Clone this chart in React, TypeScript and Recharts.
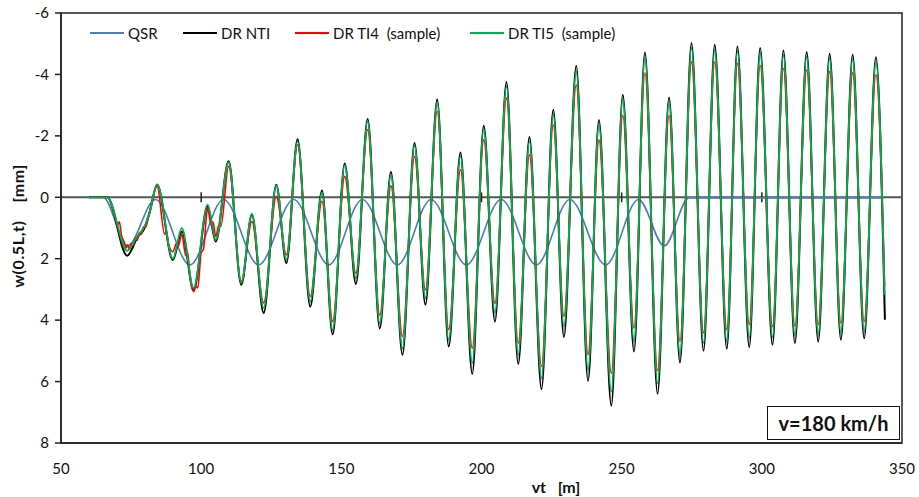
import React from 'react';
import { LineChart, Line, XAxis, YAxis, ReferenceLine, ReferenceArea } from 'recharts';

const xTicks = [50, 100, 150, 200, 250, 300, 350];
const yTicks = [-6, -4, -2, 0, 2, 4, 6, 8];
const axisMarks = [100, 150, 200, 250, 300];

// QSR (quasi-static response)
const qsrX = [60, 65, 73.7, 83.7, 96, 108, 120.5, 133, 145.5, 157.5, 170, 182, 194.6, 207, 219.6, 231.5, 244.3, 256, 265.2, 274, 343.5];
const qsrW = [0, 0, 1.58, 0.07, 2.2, 0.07, 2.2, 0.07, 2.2, 0.07, 2.2, 0.07, 2.2, 0.07, 2.2, 0.07, 2.2, 0.07, 1.58, 0.02, 0.02];

// DR NTI
const ntiX = [60, 66.5, 73.6, 77.3, 79.8, 81.6, 84.3, 89.9, 93.1, 97.3, 102.3, 105.2, 109.8, 114.3, 118.1, 122.3, 126.8, 130.4, 134.4, 138.9, 143.1, 146.9, 151.2, 155.2, 159.4, 163.7, 167.7, 171.8, 176.1, 180, 184.2, 188.3, 192.5, 196.7, 200.8, 204.8, 208.9, 213.1, 217.1, 221.4, 225.6, 229.4, 233.8, 238, 241.9, 246.3, 250.4, 254.4, 258.3, 262.8, 266.9, 270.8, 274.9, 279.2, 283.2, 287.5, 291.3, 295.5, 299.4, 303.8, 307.7, 311.8, 316, 320.1, 324.2, 328.2, 332.4, 336.5, 340.7, 343.9];
const ntiW = [0, 0, 1.9, 1.3, 1.0, 0.5, -0.41, 2.04, 1.11, 3.01, 0.3, 1.44, -1.17, 2.85, 0.57, 3.77, -0.41, 2.14, -1.89, 3.56, -0.22, 4.46, -1.1, 2.82, -2.55, 4.27, -0.82, 5.13, -1.77, 3.5, -3.18, 4.86, -1.46, 5.75, -2.33, 4.05, -3.75, 5.43, -1.96, 6.25, -2.85, 4.55, -4.28, 5.98, -2.52, 6.79, -3.34, 5.02, -4.71, 6.4, -3.25, 5.38, -5.02, 5.0, -4.97, 4.93, -4.91, 4.88, -4.86, 4.8, -4.78, 4.75, -4.73, 4.7, -4.67, 4.64, -4.64, 4.59, -4.56, 3.99];

// DR TI4 (sample)
const ti4X = [60, 66.7, 69.5, 70.2, 70.8, 71.6, 72.5, 73.2, 73.8, 74.4, 75.1, 75.8, 76.5, 77.2, 78, 78.7, 79.5, 80.2, 81.5, 84.3, 87, 87.6, 88.3, 89.9, 91.2, 91.8, 93.1, 94.5, 95.2, 96, 97.3, 98.2, 98.8, 100, 100.8, 102.3, 103.5, 104.2, 105.2, 106.3, 107, 109.8, 114.3, 118.1, 122.3, 126.8, 130.4, 134.4, 138.9, 143.1, 146.9, 151.2, 155.2, 159.4, 163.7, 167.7, 171.8, 176.1, 180, 184.2, 188.3, 192.5, 196.7, 200.8, 204.8, 208.9, 213.1, 217.1, 221.4, 225.6, 229.4, 233.8, 238, 241.9, 246.3, 250.4, 254.4, 258.3, 262.8, 266.9, 270.8, 274.9, 279.2, 283.2, 287.5, 291.3, 295.5, 299.4, 303.8, 307.7, 311.8, 316, 320.1, 324.2, 328.2, 332.4, 336.5, 340.7, 343.8];
const ti4W = [0, 0, 0.7, 0.9, 0.8, 1.25, 1.45, 1.65, 1.55, 1.7, 1.5, 1.55, 1.3, 1.4, 1.15, 1.2, 0.95, 0.98, 0.5, -0.35, 1.2, 1.1, 1.5, 1.78, 1.5, 1.6, 1.2, 1.9, 1.8, 2.6, 3.07, 2.9, 2.95, 1.8, 1.7, 0.35, 0.9, 0.8, 1.28, 0.9, 0.95, -1.01, 2.74, 0.79, 3.44, -0.03, 1.87, -1.71, 3.23, 0.13, 4.04, -0.68, 2.47, -2.2, 3.84, -0.37, 4.53, -1.33, 3.01, -2.8, 4.31, -0.9, 4.91, -1.87, 3.46, -3.23, 4.75, -1.38, 5.51, -2.36, 3.88, -3.66, 5.13, -1.87, 5.73, -2.67, 4.26, -4.05, 5.64, -2.67, 4.69, -4.41, 4.42, -4.41, 4.31, -4.36, 4.15, -4.3, 4.21, -4.2, 4.2, -4.15, 4.15, -4.1, 4.1, -4.05, 4.05, -4.0, 2.9];

// DR TI5 (sample)
const ti5X = [60, 66.5, 73.6, 77.3, 79.8, 81.6, 84.3, 89.9, 93.1, 97.3, 102.3, 105.2, 109.8, 114.3, 118.1, 122.3, 126.8, 130.4, 134.4, 138.9, 143.1, 146.9, 151.2, 155.2, 159.4, 163.7, 167.7, 171.8, 176.1, 180, 184.2, 188.3, 192.5, 196.7, 200.8, 204.8, 208.9, 213.1, 217.1, 221.4, 225.6, 229.4, 233.8, 238, 241.9, 246.3, 250.4, 254.4, 258.3, 262.8, 266.9, 270.8, 274.9, 279.2, 283.2, 287.5, 291.3, 295.5, 299.4, 303.8, 307.7, 311.8, 316, 320.1, 324.2, 328.2, 332.4, 336.5, 340.7, 343.8];
const ti5W = [0, 0, 1.74, 1.25, 0.95, 0.5, -0.42, 2.0, 1.0, 2.95, 0.24, 1.39, -1.14, 2.79, 0.53, 3.6, -0.38, 2.03, -1.82, 3.39, -0.16, 4.32, -1.05, 2.63, -2.48, 4.1, -0.74, 4.92, -1.68, 3.28, -3.1, 4.64, -1.33, 5.4, -2.22, 3.76, -3.61, 5.13, -1.82, 5.89, -2.69, 4.21, -4.1, 5.62, -2.36, 6.33, -3.2, 4.69, -4.57, 6.05, -3.12, 5.13, -4.86, 4.74, -4.8, 4.69, -4.75, 4.58, -4.7, 4.55, -4.63, 4.5, -4.58, 4.47, -4.52, 4.42, -4.5, 4.38, -4.42, 3.18];

const toPoints = (xs: number[], ws: number[]) => xs.map((x, i) => ({ x, w: ws[i] }));

const qsrData = toPoints(qsrX, qsrW);
const ntiData = toPoints(ntiX, ntiW);
const ti4Data = toPoints(ti4X, ti4W);
const ti5Data = toPoints(ti5X, ti5W);

const FONT = "Lato, 'Open Sans', sans-serif";

const legendItems = [
  { label: 'QSR', color: '#4a7ebb', lineLeft: 90, textLeft: 128 },
  { label: 'DR NTI', color: '#000000', lineLeft: 183, textLeft: 221 },
  { label: 'DR TI4  (sample)', color: '#ff0000', lineLeft: 295, textLeft: 333 },
  { label: 'DR TI5  (sample)', color: '#00b050', lineLeft: 470, textLeft: 508 },
];

export default function App() {
  return (
    <div style={{ position: 'fixed', left: 0, top: 0, width: 919, height: 497, background: '#fff', fontFamily: FONT }}>
      <LineChart width={919} height={497} margin={{ top: 13, right: 17, bottom: 24, left: 0 }}>
        <ReferenceArea x1={50} x2={350} y1={-6} y2={8} fill="none" stroke="#222" strokeWidth={1.5} ifOverflow="visible" />
        <XAxis
          dataKey="x"
          type="number"
          domain={[50, 350]}
          ticks={xTicks}
          allowDataOverflow
          height={30}
          tickSize={0}
          tickMargin={20}
          axisLine={{ stroke: '#222', strokeWidth: 1.5 }}
          tick={{ fill: '#111', fontSize: 15, fontFamily: FONT }}
        />
        <YAxis
          dataKey="w"
          type="number"
          domain={[-6, 8]}
          reversed
          ticks={yTicks}
          allowDataOverflow
          width={61}
          tickSize={6}
          tickMargin={6}
          axisLine={{ stroke: '#222', strokeWidth: 1.5 }}
          tickLine={{ stroke: '#222', strokeWidth: 1.5 }}
          tick={{ fill: '#111', fontSize: 15, fontFamily: FONT }}
        />
        <ReferenceLine y={0} stroke="#555" strokeWidth={2} />
        {axisMarks.map((m) => (
          <ReferenceLine key={m} segment={[{ x: m, y: -0.16 }, { x: m, y: 0.16 }]} stroke="#222" strokeWidth={1.5} />
        ))}
        <Line data={qsrData} dataKey="w" type="monotone" stroke="#4a7ebb" strokeWidth={1.6} dot={false} isAnimationActive={false} name="QSR" />
        <Line data={ntiData} dataKey="w" type="monotone" stroke="#000000" strokeWidth={2} dot={false} isAnimationActive={false} name="DR NTI" />
        <Line data={ti4Data} dataKey="w" type="monotone" stroke="#ff0000" strokeWidth={1.6} dot={false} isAnimationActive={false} name="DR TI4 (sample)" />
        <Line data={ti5Data} dataKey="w" type="monotone" stroke="#00b050" strokeWidth={1.8} dot={false} isAnimationActive={false} name="DR TI5 (sample)" />
      </LineChart>

      {legendItems.map((it) => (
        <React.Fragment key={it.label}>
          <div style={{ position: 'absolute', left: it.lineLeft, top: 32, width: 34, height: 2, background: it.color }} />
          <div style={{ position: 'absolute', left: it.textLeft, top: 23, fontSize: 15, lineHeight: '20px', whiteSpace: 'pre', color: '#111' }}>{it.label}</div>
        </React.Fragment>
      ))}

      <div style={{ position: 'absolute', left: 767, top: 406, width: 131, height: 32, border: '1.5px solid #111', background: '#fff', display: 'flex', alignItems: 'center', justifyContent: 'center', fontWeight: 700, fontSize: 20, color: '#111' }}>
        v=180 km/h
      </div>

      <div style={{ position: 'absolute', left: 456, width: 200, top: 477, textAlign: 'center', fontWeight: 700, fontSize: 16, lineHeight: '20px', whiteSpace: 'pre', color: '#111' }}>
        {'vt   [m]'}
      </div>

      <div style={{ position: 'absolute', left: 18, top: 226, width: 0, height: 0 }}>
        <div style={{ position: 'absolute', left: -110, top: -10, width: 220, textAlign: 'center', transform: 'rotate(-90deg)', fontWeight: 700, fontSize: 16, lineHeight: '20px', whiteSpace: 'pre', color: '#111', letterSpacing: 0.6 }}>
          {'w(0.5L,t)    [mm]'}
        </div>
      </div>
    </div>
  );
}
